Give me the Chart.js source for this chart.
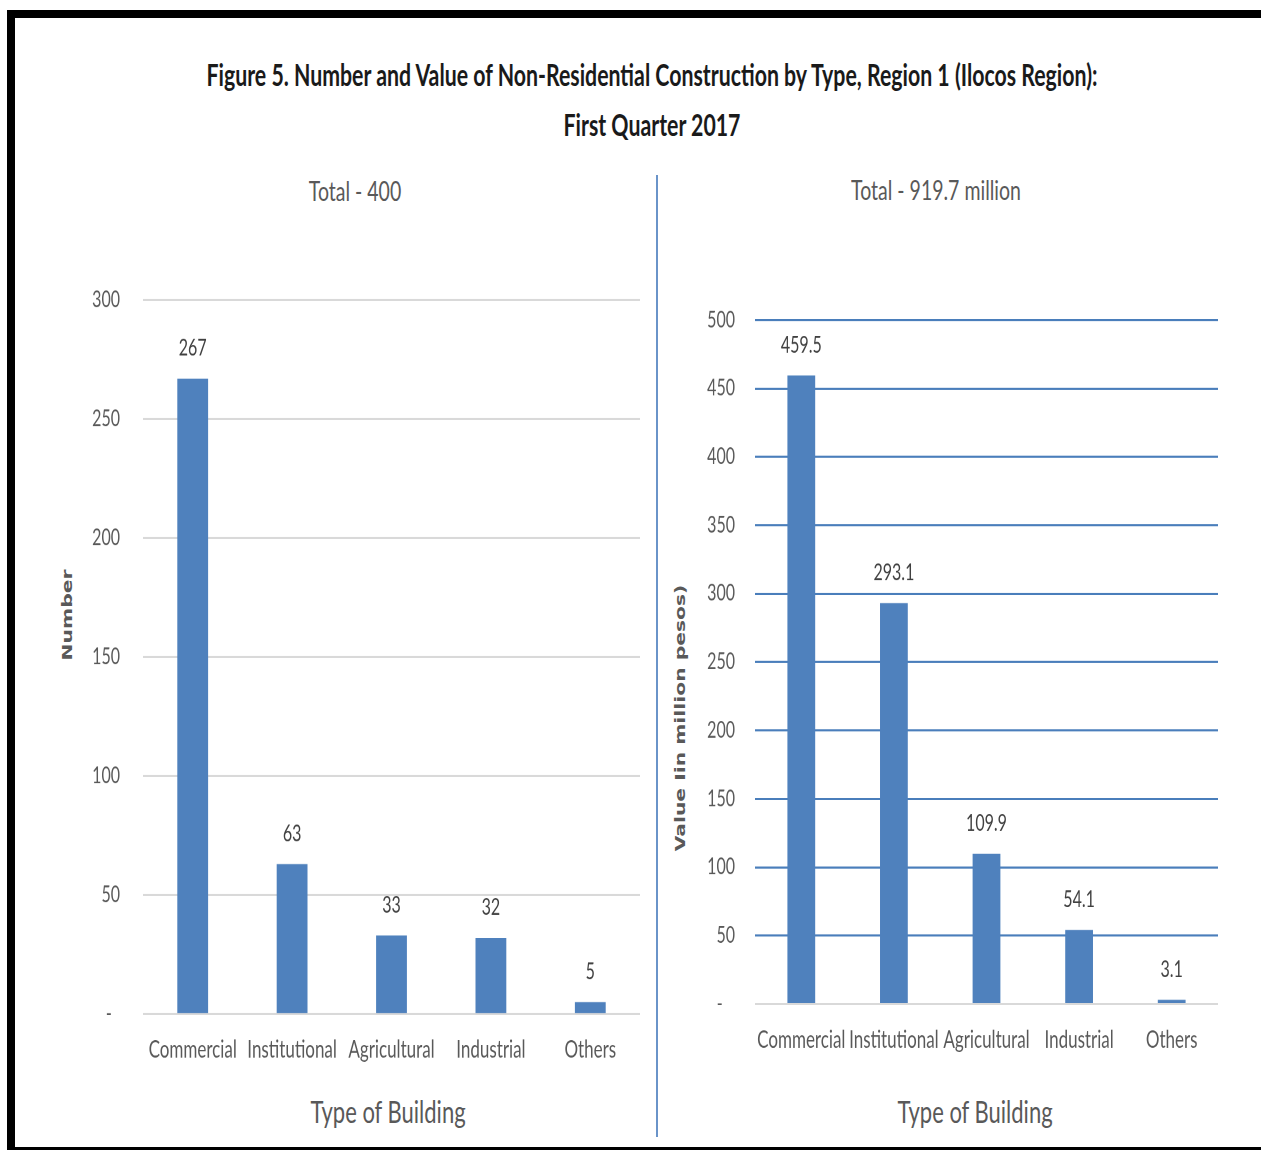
<!DOCTYPE html>
<html>
<head>
<meta charset="utf-8">
<script src="https://cdn.jsdelivr.net/npm/chart.js@4.4.1/dist/chart.umd.min.js"></script>
<style>
  html, body { margin: 0; padding: 0; background: #fff; }
  body { width: 1261px; height: 1150px; position: relative; overflow: hidden; font-family: Lato, sans-serif; }
  .frame-top { position: absolute; left: 7px; top: 10px; width: 1254px; height: 8px; background: #000; }
  .frame-left { position: absolute; left: 7px; top: 10px; width: 8px; height: 1140px; background: #000; }
  .frame-bottom { position: absolute; left: 7px; top: 1147px; width: 1254px; height: 3px; background: #000; }
  .divider { position: absolute; left: 656px; top: 175px; width: 2px; height: 962px; background: #6a94c9; }
  /* text boxes are centred on (left + 400, top + 15) and drawn tall, like the rest of the figure */
  .txt { position: absolute; width: 800px; height: 30px; line-height: 30px; text-align: center;
         white-space: nowrap; transform-origin: 50% 50%; transform: scaleY(1.4); }
  .fig-title { font-weight: bold; font-size: 21.3px; color: #1a1a1a; width: 1300px; }
  .panel-title { font-size: 19.5px; color: #595959; }
  .axis-title { font-size: 22px; color: #595959; }
  .y-title { font-family: 'DejaVu Sans', sans-serif; font-weight: bold; font-size: 14.5px; color: #595959;
             transform: scaleY(1.4) rotate(-90deg); }
  .box { position: absolute; }
  .stretch { position: absolute; left: 0; top: 0; width: 100%; transform-origin: 0 0; transform: scaleY(1.4); }
</style>
</head>
<body>
<div class="frame-top"></div>
<div class="frame-left"></div>
<div class="frame-bottom"></div>

<div class="txt fig-title" style="left:2px; top:60px">Figure 5. Number and Value of Non-Residential Construction by Type, Region 1 (Ilocos Region):</div>
<div class="txt fig-title" style="left:2px; top:110px">First Quarter 2017</div>
<div class="txt panel-title" style="left:-45px; top:176px">Total - 400</div>
<div class="txt panel-title" style="left:536px; top:175px">Total - 919.7 million</div>
<div class="txt axis-title" style="left:-12px; top:1097px">Type of Building</div>
<div class="txt axis-title" style="left:575px; top:1097px">Type of Building</div>
<div class="txt y-title" style="left:-333px; top:600px">Number</div>
<div class="txt y-title" style="left:280px; top:703px">Value Iin million pesos)</div>
<div class="divider"></div>

<div class="box" style="left:50px; top:170px; width:600px; height:965px">
  <div class="stretch" id="countWrap"><canvas id="countChart"></canvas></div>
</div>
<div class="box" style="left:660px; top:170px; width:568px; height:965px">
  <div class="stretch" id="valueWrap"><canvas id="valueChart"></canvas></div>
</div>

<script>
// Building types and the two measures for Region 1, Q1 2017
const buildingTypes = ['Commercial', 'Institutional', 'Agricultural', 'Industrial', 'Others'];
const numberOfProjects = [267, 63, 33, 32, 5];
const valueMillionPesos = [459.5, 293.1, 109.9, 54.1, 3.1];
const numberTicks = [0, 50, 100, 150, 200, 250, 300];
const valueTicks = [0, 50, 100, 150, 200, 250, 300, 350, 400, 450, 500];

// The charts are laid out in a short box that CSS stretches vertically by S.
const S = 1.4;
const BAR = '#4f81bd';
const FONT = 'Lato, sans-serif';

// Value labels above each bar
const barValueLabels = {
  id: 'barValueLabels',
  afterDatasetsDraw(chart) {
    const ctx = chart.ctx;
    const meta = chart.getDatasetMeta(0);
    const data = chart.data.datasets[0].data;
    ctx.save();
    ctx.font = '16px ' + FONT;
    ctx.fillStyle = '#404040';
    ctx.textAlign = 'center';
    ctx.textBaseline = 'middle';
    meta.data.forEach((bar, i) => {
      ctx.fillText(String(data[i]), bar.x, bar.y - 30 / S);
    });
    ctx.restore();
  }
};

function makeChart(id, wrapId, fullHeight, values, ticks, opts) {
  document.getElementById(wrapId).style.height = (fullHeight / S) + 'px';
  return new Chart(document.getElementById(id), {
    type: 'bar',
    data: {
      labels: buildingTypes,
      datasets: [{
        data: values,
        backgroundColor: BAR,
        barPercentage: opts.barPct,
        categoryPercentage: 1
      }]
    },
    options: {
      responsive: true,
      maintainAspectRatio: false,
      devicePixelRatio: 2,
      animation: false,
      layout: { padding: { top: opts.padTop / S, right: 10, left: 0, bottom: 0 } },
      plugins: { legend: { display: false }, tooltip: { enabled: false } },
      scales: {
        x: {
          grid: { display: false, drawTicks: false },
          border: { display: false },
          ticks: { color: '#595959', font: { family: FONT, size: 17 }, padding: 15.5,
                   maxRotation: 0, autoSkip: false },
          afterFit(scale) { scale.height = opts.xHeight / S; }
        },
        y: {
          min: 0,
          max: ticks[ticks.length - 1],
          afterBuildTicks(scale) { scale.ticks = ticks.map(v => ({ value: v })); },
          grid: {
            drawTicks: false,
            lineWidth: 1.5,
            color: c => (c.tick && c.tick.value === 0) ? '#d9d9d9' : opts.gridColor
          },
          border: { display: false },
          ticks: {
            color: '#595959',
            font: { family: FONT, size: 16 },
            padding: opts.yPad,
            callback: v => v === 0 ? opts.zeroLabel : String(v)
          },
          afterFit(scale) { scale.width = opts.yWidth; }
        }
      }
    },
    plugins: [barValueLabels]
  });
}

makeChart('countChart', 'countWrap', 965, numberOfProjects, numberTicks, {
  barPct: 0.31, padTop: 130, xHeight: 121, yWidth: 93, yPad: 23,
  zeroLabel: '-  ', gridColor: '#d9d9d9'
});

makeChart('valueChart', 'valueWrap', 965, valueMillionPesos, valueTicks, {
  barPct: 0.30, padTop: 150, xHeight: 131, yWidth: 95, yPad: 20,
  zeroLabel: '-   ', gridColor: '#4a7ebb'
});
</script>
</body>
</html>
